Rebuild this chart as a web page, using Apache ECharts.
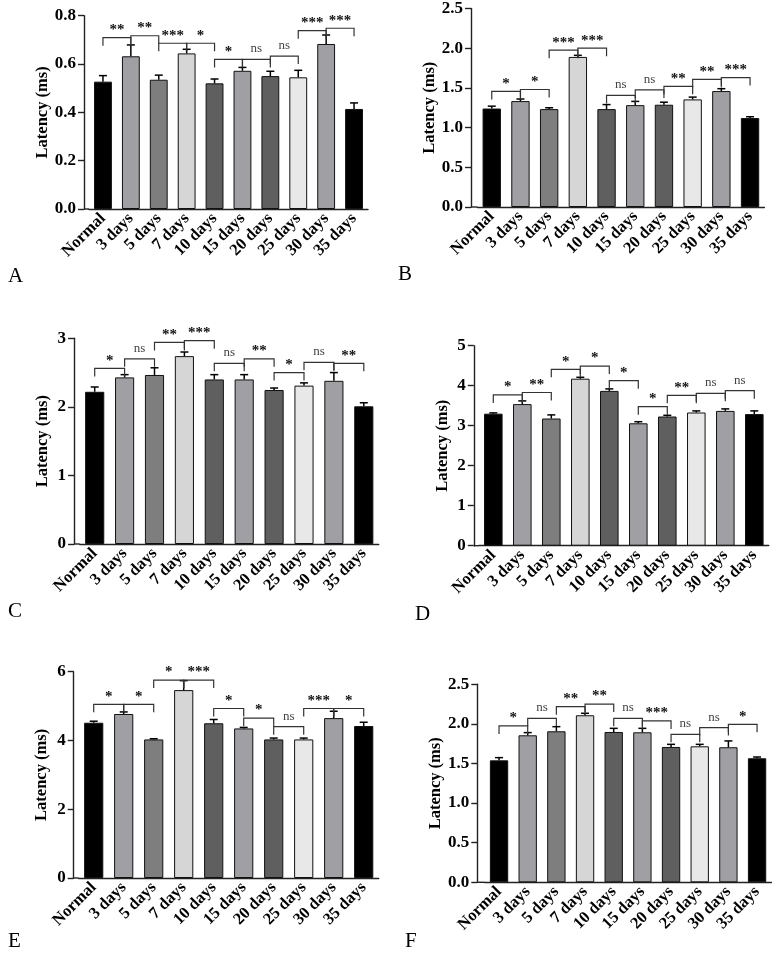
<!DOCTYPE html>
<html>
<head>
<meta charset="utf-8">
<script src="https://cdn.jsdelivr.net/npm/echarts@6/dist/echarts.min.js"></script>
<style>
html,body{margin:0;padding:0;background:#fff;}
#chart{width:780px;height:955px;}
</style>
</head>
<body>
<div id="chart"></div>
<script>
// ---------- DATA ----------
const categories = ['Normal', '3 days', '5 days', '7 days', '10 days', '15 days', '20 days', '25 days', '30 days', '35 days'];

const valuesA = [0.527, 0.632, 0.535, 0.644, 0.520, 0.572, 0.550, 0.545, 0.683, 0.414];
const errTopA = [0.552, 0.679, 0.554, 0.661, 0.538, 0.586, 0.570, 0.574, 0.720, 0.439];
const sigLabelsA = ['**', '**', '***', '*', '*', 'ns', 'ns', '***', '***'];
const sigLevelsA = [0.709, 0.717, 0.686, 0.686, 0.619, 0.619, 0.633, 0.738, 0.748];

const valuesB = [1.240, 1.334, 1.233, 1.890, 1.233, 1.283, 1.288, 1.355, 1.460, 1.120];
const errTopB = [1.270, 1.360, 1.250, 1.910, 1.290, 1.330, 1.320, 1.384, 1.490, 1.137];
const sigLabelsB = ['*', '*', '***', '***', 'ns', 'ns', '**', '**', '***'];
const sigLevelsB = [1.455, 1.480, 1.975, 2.000, 1.405, 1.475, 1.520, 1.607, 1.630];

const valuesC = [2.220, 2.430, 2.465, 2.740, 2.400, 2.400, 2.246, 2.310, 2.380, 2.008];
const errTopC = [2.290, 2.470, 2.570, 2.800, 2.470, 2.470, 2.275, 2.350, 2.500, 2.060];
const sigLabelsC = ['*', 'ns', '**', '***', 'ns', '**', '*', 'ns', '**'];
const sigLevelsC = [2.560, 2.700, 2.940, 2.965, 2.635, 2.700, 2.500, 2.650, 2.635];

const valuesD = [3.300, 3.540, 3.180, 4.175, 3.870, 3.060, 3.230, 3.330, 3.370, 3.290];
const errTopD = [3.320, 3.620, 3.270, 4.210, 3.920, 3.100, 3.260, 3.370, 3.420, 3.370];
const sigLabelsD = ['*', '**', '*', '*', '*', '*', '**', 'ns', 'ns'];
const sigLevelsD = [3.770, 3.830, 4.410, 4.490, 4.125, 3.475, 3.760, 3.810, 3.875];

const valuesE = [4.516, 4.770, 4.030, 5.465, 4.500, 4.350, 4.030, 4.030, 4.650, 4.420];
const errTopE = [4.560, 4.830, 4.050, 5.740, 4.610, 4.380, 4.070, 4.070, 4.850, 4.530];
const sigLabelsE = ['*', '*', '*', '***', '*', '*', 'ns', '***', '*'];
const sigLevelsE = [5.050, 5.050, 5.755, 5.755, 4.930, 4.650, 4.400, 4.930, 4.930];

const valuesF = [1.540, 1.856, 1.907, 2.109, 1.898, 1.894, 1.709, 1.717, 1.705, 1.566];
const errTopF = [1.574, 1.890, 1.965, 2.134, 1.944, 1.944, 1.742, 1.742, 1.785, 1.582];
const sigLabelsF = ['*', 'ns', '**', '**', 'ns', '***', 'ns', 'ns', '*'];
const sigLevelsF = [1.974, 2.070, 2.218, 2.250, 2.070, 2.037, 1.869, 1.953, 1.995];

// y axis ranges (max, tick interval, decimals)
const yMaxes = [0.8, 2.5, 3, 5, 6, 2.5];
const yIntervals = [0.2, 0.5, 1, 1, 2, 0.5];
const yDecimals = [1, 1, 0, 0, 0, 1];
const panelLetters = ['A', 'B', 'C', 'D', 'E', 'F'];

// ---------- STYLE / LAYOUT ----------
const barColors = ['#000000', '#a0a0a4', '#7e7e7e', '#d6d6d6', '#5f5f5f', '#a0a0a4', '#5f5f5f', '#e8e8e8', '#a0a0a4', '#000000'];
const SERIF = "'Liberation Serif', 'Times New Roman', serif";

const layouts = [
  { left: 89,    top: 15.7,  width: 279,   height: 193.3, off: 5,   nameGap: 33,   letter: [3, 261] },
  { left: 477.4, top: 8.3,   width: 287,   height: 198.7, off: 6.4, nameGap: 32.5, letter: [393, 259] },
  { left: 79.75, top: 338.3, width: 299,   height: 205.7, off: 5.7, nameGap: 22.5, letter: [3, 596] },
  { left: 478.8, top: 345.7, width: 290,   height: 200,   off: 5,   nameGap: 22.5, letter: [410, 599] },
  { left: 78.7,  top: 671.7, width: 300,   height: 206.3, off: 5,   nameGap: 23,   letter: [3, 926] },
  { left: 484.7, top: 684.3, width: 286.7, height: 198,   off: 7.4, nameGap: 31.5, letter: [400, 926] }
];

const panels = [
  [valuesA, errTopA, sigLabelsA, sigLevelsA],
  [valuesB, errTopB, sigLabelsB, sigLevelsB],
  [valuesC, errTopC, sigLabelsC, sigLevelsC],
  [valuesD, errTopD, sigLabelsD, sigLevelsD],
  [valuesE, errTopE, sigLabelsE, sigLevelsE],
  [valuesF, errTopF, sigLabelsF, sigLevelsF]
];

const AXIS_COLOR = '#222';
const grids = [], xAxes = [], yAxes = [], series = [], titles = [];

panels.forEach((p, k) => {
  const [vals, errs, sigs, levels] = p;
  const L = layouts[k];
  grids.push({ left: L.left, top: L.top, width: L.width, height: L.height, containLabel: false });
  xAxes.push({
    type: 'category', gridIndex: k, data: categories,
    axisLine: { lineStyle: { color: AXIS_COLOR, width: 1.4 } },
    axisTick: { alignWithLabel: true, length: 5, lineStyle: { color: AXIS_COLOR, width: 1.4 } },
    axisLabel: { interval: 0, rotate: 45, margin: 7, color: '#000', fontFamily: SERIF, fontWeight: 'bold', fontSize: 16.5 },
    splitLine: { show: false }
  });
  yAxes.push({
    type: 'value', gridIndex: k, min: 0, max: yMaxes[k], interval: yIntervals[k], offset: L.off,
    name: 'Latency (ms)', nameLocation: 'middle', nameGap: L.nameGap,
    nameTextStyle: { fontFamily: SERIF, fontWeight: 'bold', fontSize: 16.5, color: '#000' },
    axisLine: { show: true, lineStyle: { color: AXIS_COLOR, width: 1.4 } },
    axisTick: { show: true, length: 6, lineStyle: { color: AXIS_COLOR, width: 1.4 } },
    axisLabel: { margin: 8, color: '#000', fontFamily: SERIF, fontWeight: 'bold', fontSize: 17,
      formatter: v => v.toFixed(yDecimals[k]) },
    splitLine: { show: false }
  });
  series.push({
    type: 'bar', xAxisIndex: k, yAxisIndex: k, barWidth: '64%', silent: true, z: 2,
    data: vals.map((v, i) => ({ value: v, itemStyle: { color: barColors[i] } })),
    itemStyle: { borderColor: '#111', borderWidth: 1 }
  });
  // error bars (upper only)
  series.push({
    type: 'custom', xAxisIndex: k, yAxisIndex: k, silent: true, z: 3,
    data: vals.map((v, i) => [i, v, errs[i]]),
    renderItem: (params, api) => {
      const i = api.value(0);
      const b = api.coord([i, api.value(1)]);
      const t = api.coord([i, api.value(2)]);
      const children = [
        { type: 'line', shape: { x1: b[0], y1: b[1], x2: t[0], y2: t[1] }, style: { stroke: '#000', lineWidth: 1.5 } },
        { type: 'line', shape: { x1: t[0] - 4, y1: t[1], x2: t[0] + 4, y2: t[1] }, style: { stroke: '#000', lineWidth: 1.5 } }
      ];
      if (params.dataIndex === 0) {
        const cs = params.coordSys;
        children.push({ type: 'line', shape: { x1: cs.x - L.off, y1: cs.y + cs.height, x2: cs.x, y2: cs.y + cs.height },
          style: { stroke: AXIS_COLOR, lineWidth: 1.4 } });
      }
      return { type: 'group', children };
    }
  });
  // significance brackets
  series.push({
    type: 'custom', xAxisIndex: k, yAxisIndex: k, silent: true, z: 4, clip: false,
    data: levels.map((h, i) => [i, h]),
    renderItem: (params, api) => {
      const i = api.value(0);
      const h = api.value(1);
      const a = api.coord([i, h]);
      const c = api.coord([i + 1, h]);
      const leg = 8;
      const lab = sigs[params.dataIndex];
      const isNs = lab === 'ns';
      return {
        type: 'group',
        children: [
          { type: 'polyline', shape: { points: [[a[0], a[1] + leg], [a[0], a[1]], [c[0], c[1]], [c[0], c[1] + leg]] },
            style: { stroke: '#333', lineWidth: 1.2, fill: null } },
          { type: 'text', x: (a[0] + c[0]) / 2, y: a[1] - (isNs ? 4 : 0),
            style: { text: lab, align: 'center', verticalAlign: 'bottom',
              fill: isNs ? '#444' : '#111',
              font: (isNs ? 'normal 13px ' : 'bold 15px ') + SERIF } }
        ]
      };
    }
  });
  titles.push({ text: panelLetters[k], left: L.letter[0], top: L.letter[1],
    textStyle: { fontFamily: SERIF, fontWeight: 'normal', fontSize: 21, color: '#000' } });
});

const chart = echarts.init(document.getElementById('chart'), null, { renderer: 'canvas' });
chart.setOption({
  animation: false,
  backgroundColor: '#fff',
  title: titles,
  grid: grids,
  xAxis: xAxes,
  yAxis: yAxes,
  series: series
});
</script>
</body>
</html>
